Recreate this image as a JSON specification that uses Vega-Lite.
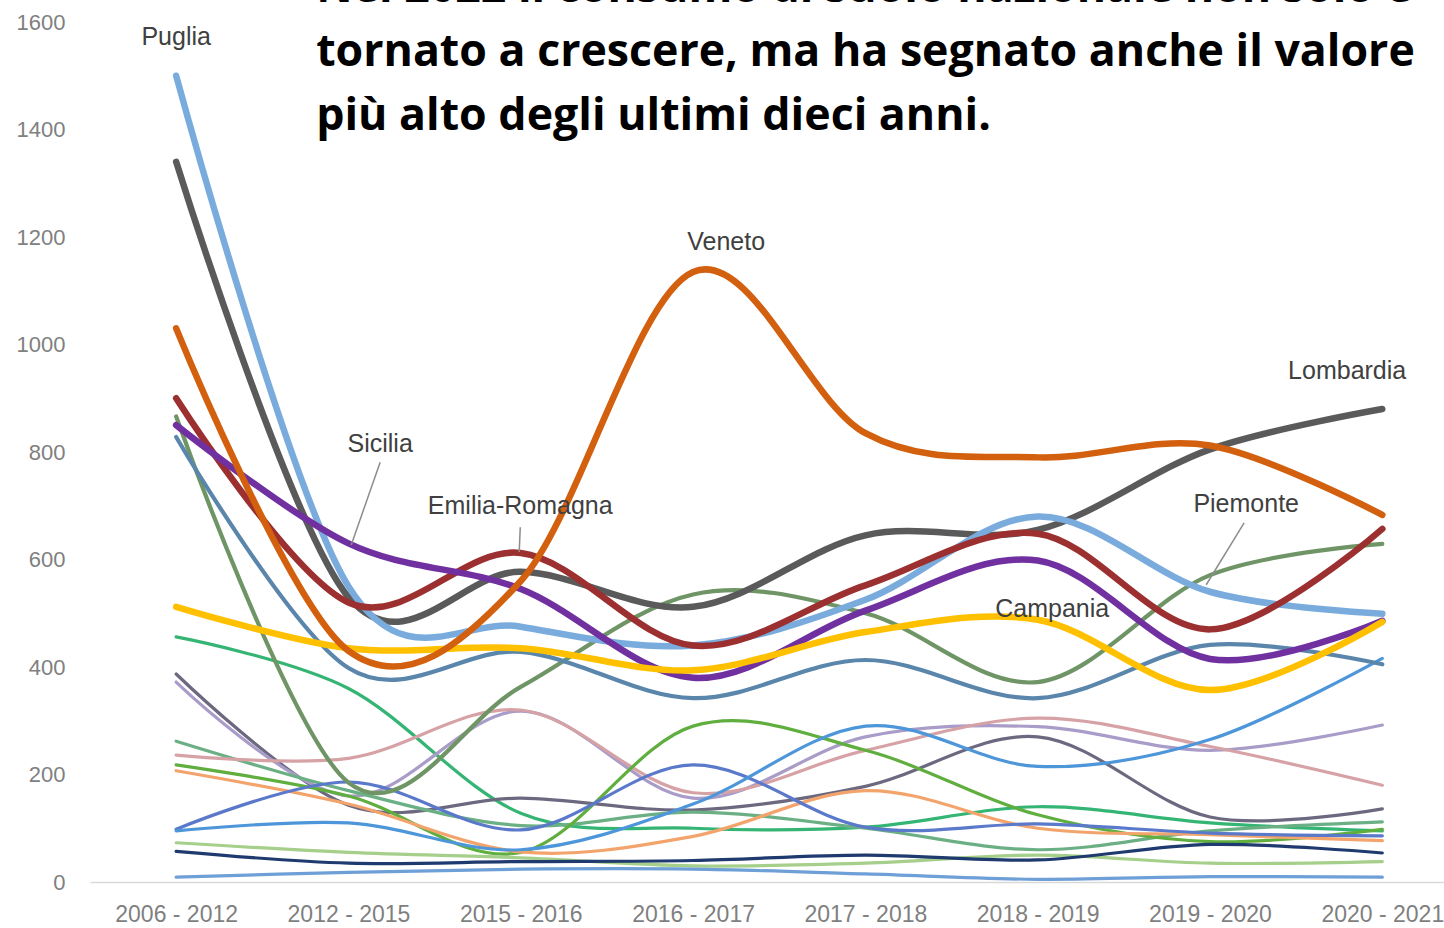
{
  "$schema": "https://vega.github.io/schema/vega-lite/v6.json",
  "autosize": "none",
  "width": 1354,
  "height": 860,
  "padding": {"left": 90, "top": 22, "right": 0, "bottom": 46},
  "background": "white",
  "config": {"view": {"stroke": null}},
  "datasets": {
    "series": [
      {"region":"Lombardia","period":"2006 - 2012","i":0,"value":1340},{"region":"Lombardia","period":"2012 - 2015","i":1,"value":530},{"region":"Lombardia","period":"2015 - 2016","i":2,"value":577},{"region":"Lombardia","period":"2016 - 2017","i":3,"value":512},{"region":"Lombardia","period":"2017 - 2018","i":4,"value":645},{"region":"Lombardia","period":"2018 - 2019","i":5,"value":655},{"region":"Lombardia","period":"2019 - 2020","i":6,"value":805},{"region":"Lombardia","period":"2020 - 2021","i":7,"value":880},
      {"region":"Puglia","period":"2006 - 2012","i":0,"value":1500},{"region":"Puglia","period":"2012 - 2015","i":1,"value":550},{"region":"Puglia","period":"2015 - 2016","i":2,"value":475},{"region":"Puglia","period":"2016 - 2017","i":3,"value":440},{"region":"Puglia","period":"2017 - 2018","i":4,"value":525},{"region":"Puglia","period":"2018 - 2019","i":5,"value":680},{"region":"Puglia","period":"2019 - 2020","i":6,"value":540},{"region":"Puglia","period":"2020 - 2021","i":7,"value":499},
      {"region":"Emilia-Romagna","period":"2006 - 2012","i":0,"value":900},{"region":"Emilia-Romagna","period":"2012 - 2015","i":1,"value":520},{"region":"Emilia-Romagna","period":"2015 - 2016","i":2,"value":612},{"region":"Emilia-Romagna","period":"2016 - 2017","i":3,"value":440},{"region":"Emilia-Romagna","period":"2017 - 2018","i":4,"value":552},{"region":"Emilia-Romagna","period":"2018 - 2019","i":5,"value":648},{"region":"Emilia-Romagna","period":"2019 - 2020","i":6,"value":470},{"region":"Emilia-Romagna","period":"2020 - 2021","i":7,"value":657},
      {"region":"Sicilia","period":"2006 - 2012","i":0,"value":850},{"region":"Sicilia","period":"2012 - 2015","i":1,"value":630},{"region":"Sicilia","period":"2015 - 2016","i":2,"value":545},{"region":"Sicilia","period":"2016 - 2017","i":3,"value":380},{"region":"Sicilia","period":"2017 - 2018","i":4,"value":505},{"region":"Sicilia","period":"2018 - 2019","i":5,"value":598},{"region":"Sicilia","period":"2019 - 2020","i":6,"value":415},{"region":"Sicilia","period":"2020 - 2021","i":7,"value":486},
      {"region":"Campania","period":"2006 - 2012","i":0,"value":512},{"region":"Campania","period":"2012 - 2015","i":1,"value":435},{"region":"Campania","period":"2015 - 2016","i":2,"value":435},{"region":"Campania","period":"2016 - 2017","i":3,"value":394},{"region":"Campania","period":"2017 - 2018","i":4,"value":465},{"region":"Campania","period":"2018 - 2019","i":5,"value":488},{"region":"Campania","period":"2019 - 2020","i":6,"value":357},{"region":"Campania","period":"2020 - 2021","i":7,"value":484},
      {"region":"Veneto","period":"2006 - 2012","i":0,"value":1030},{"region":"Veneto","period":"2012 - 2015","i":1,"value":430},{"region":"Veneto","period":"2015 - 2016","i":2,"value":560},{"region":"Veneto","period":"2016 - 2017","i":3,"value":1135},{"region":"Veneto","period":"2017 - 2018","i":4,"value":835},{"region":"Veneto","period":"2018 - 2019","i":5,"value":790},{"region":"Veneto","period":"2019 - 2020","i":6,"value":812},{"region":"Veneto","period":"2020 - 2021","i":7,"value":683},
      {"region":"Piemonte","period":"2006 - 2012","i":0,"value":866},{"region":"Piemonte","period":"2012 - 2015","i":1,"value":185},{"region":"Piemonte","period":"2015 - 2016","i":2,"value":363},{"region":"Piemonte","period":"2016 - 2017","i":3,"value":535},{"region":"Piemonte","period":"2017 - 2018","i":4,"value":500},{"region":"Piemonte","period":"2018 - 2019","i":5,"value":372},{"region":"Piemonte","period":"2019 - 2020","i":6,"value":571},{"region":"Piemonte","period":"2020 - 2021","i":7,"value":629},
      {"region":"Lazio","period":"2006 - 2012","i":0,"value":828},{"region":"Lazio","period":"2012 - 2015","i":1,"value":398},{"region":"Lazio","period":"2015 - 2016","i":2,"value":428},{"region":"Lazio","period":"2016 - 2017","i":3,"value":342},{"region":"Lazio","period":"2017 - 2018","i":4,"value":413},{"region":"Lazio","period":"2018 - 2019","i":5,"value":342},{"region":"Lazio","period":"2019 - 2020","i":6,"value":441},{"region":"Lazio","period":"2020 - 2021","i":7,"value":405},
      {"region":"Toscana","period":"2006 - 2012","i":0,"value":456},{"region":"Toscana","period":"2012 - 2015","i":1,"value":360},{"region":"Toscana","period":"2015 - 2016","i":2,"value":128},{"region":"Toscana","period":"2016 - 2017","i":3,"value":100},{"region":"Toscana","period":"2017 - 2018","i":4,"value":102},{"region":"Toscana","period":"2018 - 2019","i":5,"value":140},{"region":"Toscana","period":"2019 - 2020","i":6,"value":110},{"region":"Toscana","period":"2020 - 2021","i":7,"value":95},
      {"region":"Sardegna","period":"2006 - 2012","i":0,"value":387},{"region":"Sardegna","period":"2012 - 2015","i":1,"value":143},{"region":"Sardegna","period":"2015 - 2016","i":2,"value":156},{"region":"Sardegna","period":"2016 - 2017","i":3,"value":134},{"region":"Sardegna","period":"2017 - 2018","i":4,"value":178},{"region":"Sardegna","period":"2018 - 2019","i":5,"value":270},{"region":"Sardegna","period":"2019 - 2020","i":6,"value":121},{"region":"Sardegna","period":"2020 - 2021","i":7,"value":136},
      {"region":"Marche","period":"2006 - 2012","i":0,"value":372},{"region":"Marche","period":"2012 - 2015","i":1,"value":160},{"region":"Marche","period":"2015 - 2016","i":2,"value":318},{"region":"Marche","period":"2016 - 2017","i":3,"value":156},{"region":"Marche","period":"2017 - 2018","i":4,"value":270},{"region":"Marche","period":"2018 - 2019","i":5,"value":289},{"region":"Marche","period":"2019 - 2020","i":6,"value":245},{"region":"Marche","period":"2020 - 2021","i":7,"value":292},
      {"region":"Abruzzo","period":"2006 - 2012","i":0,"value":262},{"region":"Abruzzo","period":"2012 - 2015","i":1,"value":170},{"region":"Abruzzo","period":"2015 - 2016","i":2,"value":105},{"region":"Abruzzo","period":"2016 - 2017","i":3,"value":130},{"region":"Abruzzo","period":"2017 - 2018","i":4,"value":100},{"region":"Abruzzo","period":"2018 - 2019","i":5,"value":60},{"region":"Abruzzo","period":"2019 - 2020","i":6,"value":95},{"region":"Abruzzo","period":"2020 - 2021","i":7,"value":112},
      {"region":"Calabria","period":"2006 - 2012","i":0,"value":236},{"region":"Calabria","period":"2012 - 2015","i":1,"value":230},{"region":"Calabria","period":"2015 - 2016","i":2,"value":320},{"region":"Calabria","period":"2016 - 2017","i":3,"value":166},{"region":"Calabria","period":"2017 - 2018","i":4,"value":245},{"region":"Calabria","period":"2018 - 2019","i":5,"value":305},{"region":"Calabria","period":"2019 - 2020","i":6,"value":252},{"region":"Calabria","period":"2020 - 2021","i":7,"value":180},
      {"region":"Friuli-Venezia Giulia","period":"2006 - 2012","i":0,"value":218},{"region":"Friuli-Venezia Giulia","period":"2012 - 2015","i":1,"value":160},{"region":"Friuli-Venezia Giulia","period":"2015 - 2016","i":2,"value":55},{"region":"Friuli-Venezia Giulia","period":"2016 - 2017","i":3,"value":290},{"region":"Friuli-Venezia Giulia","period":"2017 - 2018","i":4,"value":245},{"region":"Friuli-Venezia Giulia","period":"2018 - 2019","i":5,"value":125},{"region":"Friuli-Venezia Giulia","period":"2019 - 2020","i":6,"value":75},{"region":"Friuli-Venezia Giulia","period":"2020 - 2021","i":7,"value":98},
      {"region":"Umbria","period":"2006 - 2012","i":0,"value":207},{"region":"Umbria","period":"2012 - 2015","i":1,"value":145},{"region":"Umbria","period":"2015 - 2016","i":2,"value":56},{"region":"Umbria","period":"2016 - 2017","i":3,"value":85},{"region":"Umbria","period":"2017 - 2018","i":4,"value":170},{"region":"Umbria","period":"2018 - 2019","i":5,"value":100},{"region":"Umbria","period":"2019 - 2020","i":6,"value":88},{"region":"Umbria","period":"2020 - 2021","i":7,"value":77},
      {"region":"Basilicata","period":"2006 - 2012","i":0,"value":98},{"region":"Basilicata","period":"2012 - 2015","i":1,"value":186},{"region":"Basilicata","period":"2015 - 2016","i":2,"value":97},{"region":"Basilicata","period":"2016 - 2017","i":3,"value":218},{"region":"Basilicata","period":"2017 - 2018","i":4,"value":102},{"region":"Basilicata","period":"2018 - 2019","i":5,"value":108},{"region":"Basilicata","period":"2019 - 2020","i":6,"value":91},{"region":"Basilicata","period":"2020 - 2021","i":7,"value":86},
      {"region":"Trentino-Alto Adige","period":"2006 - 2012","i":0,"value":95},{"region":"Trentino-Alto Adige","period":"2012 - 2015","i":1,"value":110},{"region":"Trentino-Alto Adige","period":"2015 - 2016","i":2,"value":60},{"region":"Trentino-Alto Adige","period":"2016 - 2017","i":3,"value":145},{"region":"Trentino-Alto Adige","period":"2017 - 2018","i":4,"value":290},{"region":"Trentino-Alto Adige","period":"2018 - 2019","i":5,"value":215},{"region":"Trentino-Alto Adige","period":"2019 - 2020","i":6,"value":265},{"region":"Trentino-Alto Adige","period":"2020 - 2021","i":7,"value":416},
      {"region":"Liguria","period":"2006 - 2012","i":0,"value":73},{"region":"Liguria","period":"2012 - 2015","i":1,"value":55},{"region":"Liguria","period":"2015 - 2016","i":2,"value":45},{"region":"Liguria","period":"2016 - 2017","i":3,"value":30},{"region":"Liguria","period":"2017 - 2018","i":4,"value":35},{"region":"Liguria","period":"2018 - 2019","i":5,"value":50},{"region":"Liguria","period":"2019 - 2020","i":6,"value":35},{"region":"Liguria","period":"2020 - 2021","i":7,"value":38},
      {"region":"Molise","period":"2006 - 2012","i":0,"value":57},{"region":"Molise","period":"2012 - 2015","i":1,"value":35},{"region":"Molise","period":"2015 - 2016","i":2,"value":38},{"region":"Molise","period":"2016 - 2017","i":3,"value":40},{"region":"Molise","period":"2017 - 2018","i":4,"value":50},{"region":"Molise","period":"2018 - 2019","i":5,"value":41},{"region":"Molise","period":"2019 - 2020","i":6,"value":70},{"region":"Molise","period":"2020 - 2021","i":7,"value":54},
      {"region":"Valle d'Aosta","period":"2006 - 2012","i":0,"value":9},{"region":"Valle d'Aosta","period":"2012 - 2015","i":1,"value":18},{"region":"Valle d'Aosta","period":"2015 - 2016","i":2,"value":24},{"region":"Valle d'Aosta","period":"2016 - 2017","i":3,"value":24},{"region":"Valle d'Aosta","period":"2017 - 2018","i":4,"value":15},{"region":"Valle d'Aosta","period":"2018 - 2019","i":5,"value":5},{"region":"Valle d'Aosta","period":"2019 - 2020","i":6,"value":10},{"region":"Valle d'Aosta","period":"2020 - 2021","i":7,"value":9}
    ],
    "labels": [
      {"label":"Puglia","i":0,"value":1572},
      {"label":"Sicilia","i":1.184,"value":815},
      {"label":"Emilia-Romagna","i":1.997,"value":700},
      {"label":"Veneto","i":3.192,"value":1191},
      {"label":"Campania","i":5.084,"value":508},
      {"label":"Piemonte","i":6.21,"value":703},
      {"label":"Lombardia","i":6.796,"value":951}
    ],
    "leaders": [
      {"label":"Sicilia","i":1.184,"value":781,"i2":1.016,"value2":627},
      {"label":"Emilia-Romagna","i":1.997,"value":660,"i2":1.991,"value2":614},
      {"label":"Piemonte","i":6.198,"value":668,"i2":5.978,"value2":553}
    ],
    "headline": [
      {"text":"Nel 2022 il consumo di suolo nazionale non solo è\ntornato a crescere, ma ha segnato anche il valore\npiù alto degli ultimi dieci anni."}
    ]
  },
  "layer": [
    {
      "data": {"name": "series"},
      "transform": [{"filter": {"field": "region", "oneOf": ["Toscana","Sardegna","Marche","Abruzzo","Calabria","Friuli-Venezia Giulia","Umbria","Basilicata","Trentino-Alto Adige","Liguria","Molise","Valle d'Aosta"]}}],
      "mark": {"type": "line", "interpolate": "cardinal", "strokeWidth": 3.2, "strokeCap": "round"},
      "encoding": {
        "x": {"field": "i", "type": "quantitative", "scale": {"domain": [-0.5, 7.358], "nice": false, "zero": false},
          "axis": {"values": [0,1,2,3,4,5,6,7], "labelExpr": "['2006 - 2012','2012 - 2015','2015 - 2016','2016 - 2017','2017 - 2018','2018 - 2019','2019 - 2020','2020 - 2021'][datum.value]",
            "title": null, "grid": false, "ticks": false, "domainColor": "#d9d9d9", "domainWidth": 1.5, "labelFont": "Liberation Sans", "labelFontSize": 23, "labelColor": "#7f7f7f", "labelPadding": 21, "labelFlush": false, "labelOverlap": false}},
        "y": {"field": "value", "type": "quantitative", "scale": {"domain": [0, 1600], "nice": false},
          "axis": {"values": [0,200,400,600,800,1000,1200,1400,1600], "format": "d", "title": null, "grid": false, "ticks": false, "domain": false, "labelFont": "Liberation Sans", "labelFontSize": 22, "labelColor": "#808080", "labelPadding": 25}},
        "color": {"field": "region", "type": "nominal", "legend": null,
          "scale": {
            "domain": ["Lombardia","Puglia","Emilia-Romagna","Sicilia","Campania","Veneto","Piemonte","Lazio","Toscana","Sardegna","Marche","Abruzzo","Calabria","Friuli-Venezia Giulia","Umbria","Basilicata","Trentino-Alto Adige","Liguria","Molise","Valle d'Aosta"],
            "range": ["#5a5a5a","#79acdd","#9c2f2f","#7030a0","#ffc000","#d2600e","#6f9566","#5a86ac","#35b574","#6c6880","#a99cc8","#6baf84","#d6a2a6","#5fae3e","#f3a46c","#5b79ca","#4c96d9","#a5cf8a","#1f3a6e","#6e9fd6"]}}
      }
    },
    {
      "data": {"name": "series"},
      "transform": [{"filter": {"field": "region", "oneOf": ["Piemonte","Lazio"]}}],
      "mark": {"type": "line", "interpolate": "cardinal", "strokeWidth": 4.2, "strokeCap": "round"},
      "encoding": {
        "x": {"field": "i", "type": "quantitative"},
        "y": {"field": "value", "type": "quantitative"},
        "color": {"field": "region", "type": "nominal", "legend": null}
      }
    },
    {
      "data": {"name": "series"},
      "transform": [{"filter": {"field": "region", "oneOf": ["Campania","Emilia-Romagna","Sicilia","Lombardia","Puglia","Veneto"]}}],
      "mark": {"type": "line", "interpolate": "cardinal", "strokeWidth": 6.5, "strokeCap": "round"},
      "encoding": {
        "x": {"field": "i", "type": "quantitative"},
        "y": {"field": "value", "type": "quantitative"},
        "color": {"field": "region", "type": "nominal", "legend": null}
      }
    },
    {
      "data": {"name": "leaders"},
      "mark": {"type": "rule", "color": "#8c8c8c", "strokeWidth": 1.5},
      "encoding": {
        "x": {"field": "i", "type": "quantitative"},
        "y": {"field": "value", "type": "quantitative"},
        "x2": {"field": "i2"},
        "y2": {"field": "value2"}
      }
    },
    {
      "data": {"name": "labels"},
      "mark": {"type": "text", "font": "Liberation Sans", "fontSize": 25, "color": "#404040", "align": "center", "baseline": "middle"},
      "encoding": {
        "x": {"field": "i", "type": "quantitative"},
        "y": {"field": "value", "type": "quantitative"},
        "text": {"field": "label"}
      }
    },
    {
      "data": {"name": "headline"},
      "mark": {"type": "text", "font": "Open Sans", "fontSize": 44.7, "fontWeight": "bold", "color": "#000000", "align": "left", "baseline": "alphabetic", "lineBreak": "\n", "lineHeight": 64},
      "encoding": {
        "x": {"datum": 0.8125, "type": "quantitative"},
        "y": {"datum": 1637, "type": "quantitative"},
        "text": {"field": "text"}
      }
    }
  ]
}
